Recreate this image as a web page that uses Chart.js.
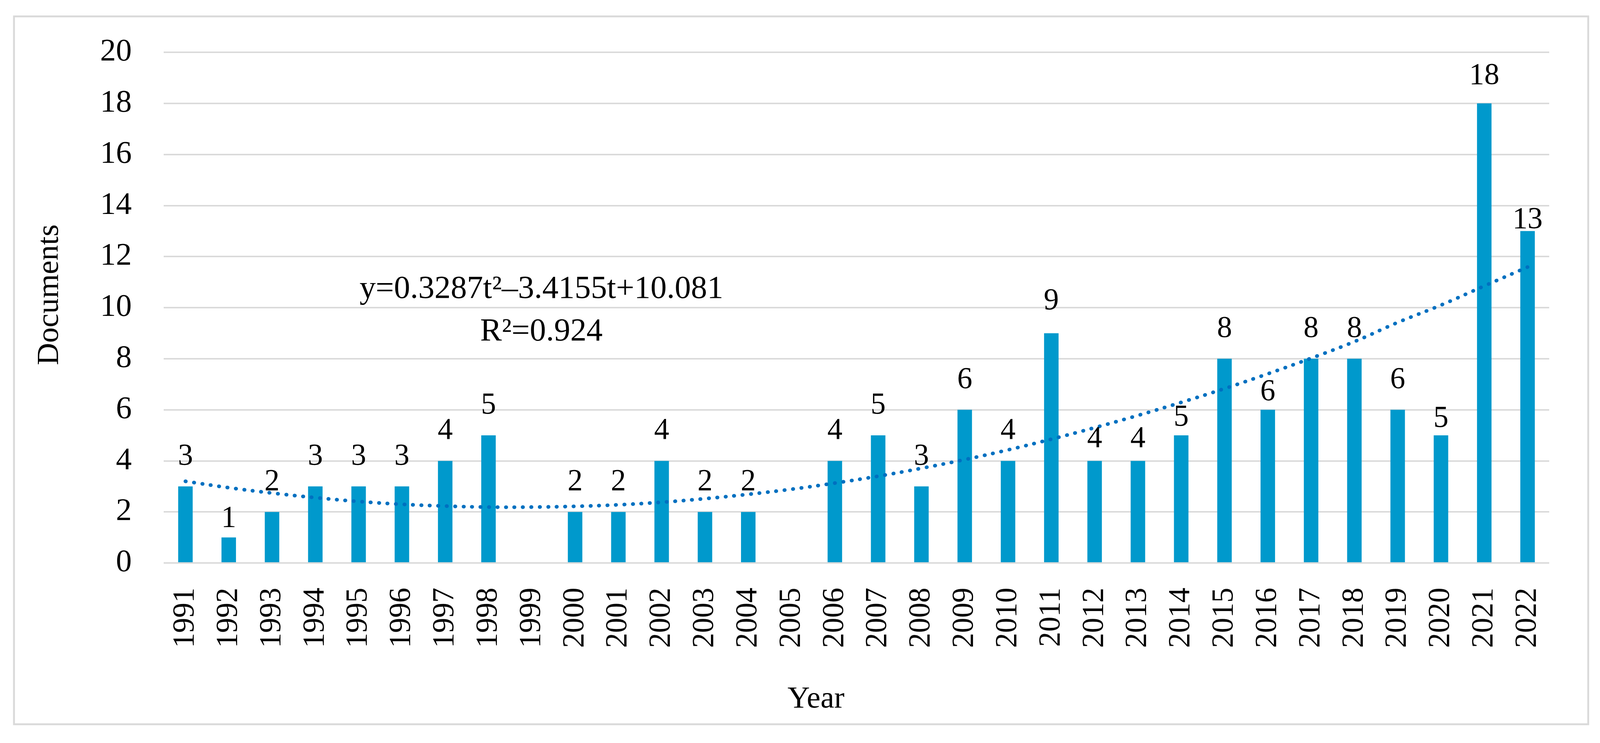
<!DOCTYPE html>
<html>
<head>
<meta charset="utf-8">
<title>Documents per year</title>
<script src="https://cdn.jsdelivr.net/npm/chart.js@4.4.1/dist/chart.umd.min.js"></script>
<style>
  html, body { margin: 0; padding: 0; background: #fff; overflow: hidden; }
  canvas { display: block; }
</style>
</head>
<body>
<canvas id="docChart"></canvas>
<script>
// Years along the x axis
var years = ['1991', '1992', '1993', '1994', '1995', '1996', '1997', '1998', '1999', '2000',
             '2001', '2002', '2003', '2004', '2005', '2006', '2007', '2008', '2009', '2010',
             '2011', '2012', '2013', '2014', '2015', '2016', '2017', '2018', '2019', '2020',
             '2021', '2022'];

// Documents published each year
var documents = [3, 1, 2, 3, 3, 3, 4, 5, 0, 2,
                 2, 4, 2, 2, 0, 4, 5, 3, 6, 4,
                 9, 4, 4, 5, 8, 6, 8, 8, 6, 5,
                 18, 13];

// Dotted polynomial trendline at each year
var trend = [3.20, 2.95, 2.74, 2.56, 2.41, 2.30, 2.23, 2.19, 2.19, 2.22,
             2.28, 2.38, 2.52, 2.69, 2.89, 3.13, 3.40, 3.71, 4.05, 4.43,
             4.85, 5.30, 5.78, 6.29, 6.83, 7.41, 8.02, 8.67, 9.42, 10.10,
             10.85, 11.59];

// Y axis tick values
var yTicks = [0, 2, 4, 6, 8, 10, 12, 14, 16, 18, 20];

var equationText = 'y=0.3287t\u00b2\u20133.4155t+10.081';
var rSquaredText = 'R\u00b2=0.924';

// Some value labels were dragged by hand in the original (px, down is positive)
var labelShift = { '1992': 28, '2011': -5, '2012': 21, '2013': 21, '2014': 31,
                   '2016': 31, '2020': 34, '2021': 6, '2022': 48 };

// Layout was measured on a 4347 x 1903 picture, scale it to the real window
var baseW = 4347, baseH = 1903;
var winW = window.innerWidth || baseW;
var winH = window.innerHeight || baseH;
var kx = winW / baseW, ky = winH / baseH, kf = Math.min(kx, ky);
function X(v) { return v * kx; }
function Y(v) { return v * ky; }
function F(v) { return v * kf; }

var canvas = document.getElementById('docChart');
canvas.style.width = winW + 'px';
canvas.style.height = winH + 'px';

var serif = "'Liberation Serif', 'Times New Roman', serif";
Chart.defaults.font.family = serif;
Chart.defaults.color = '#000';

// Draws the outer frame, the value labels, the equation and the axis titles
var extrasPlugin = {
    id: 'extras',
    beforeDraw: function (chart) {
        var ctx = chart.ctx;
        ctx.save();
        ctx.fillStyle = '#fff';
        ctx.fillRect(0, 0, chart.width, chart.height);
        ctx.strokeStyle = '#d9d9d9';
        ctx.lineWidth = F(5);
        ctx.strokeRect(X(38), Y(42), X(4277), Y(1813));
        ctx.restore();
    },
    afterDraw: function (chart) {
        var ctx = chart.ctx;
        var bars = chart.getDatasetMeta(0).data;
        ctx.save();
        ctx.fillStyle = '#000';
        ctx.textAlign = 'center';
        ctx.textBaseline = 'alphabetic';

        // value labels above the bars
        ctx.font = F(82) + 'px ' + serif;
        for (var i = 0; i < bars.length; i++) {
            if (!documents[i]) continue;
            var shift = labelShift[years[i]] || 0;
            ctx.fillText(String(documents[i]), bars[i].x, bars[i].y + Y(shift - 56));
        }

        // trendline equation
        ctx.font = F(88) + 'px ' + serif;
        ctx.fillText(equationText, X(1471), Y(763));
        ctx.fillText(rSquaredText, X(1471), Y(872));

        // axis titles
        ctx.font = F(84) + 'px ' + serif;
        ctx.fillText('Year', X(2217), Y(1812));
        ctx.translate(X(157), Y(755));
        ctx.rotate(-Math.PI / 2);
        ctx.fillText('Documents', 0, 0);
        ctx.restore();
    }
};

new Chart(canvas, {
    data: {
        labels: years,
        datasets: [{
            type: 'bar',
            label: 'Documents',
            data: documents,
            backgroundColor: '#0099cc',
            borderWidth: 0,
            barPercentage: 0.335,
            categoryPercentage: 1,
            order: 1
        }, {
            type: 'line',
            label: 'Trend',
            data: trend,
            borderColor: '#0070c0',
            borderWidth: F(10),
            borderDash: [F(1), F(22)],
            borderCapStyle: 'round',
            pointRadius: 0,
            tension: 0.4,
            fill: false,
            order: 0
        }]
    },
    options: {
        responsive: false,
        animation: false,
        layout: {
            padding: { left: 0, right: X(138), top: Y(134), bottom: 0 }
        },
        plugins: {
            legend: { display: false },
            tooltip: { enabled: false }
        },
        scales: {
            x: {
                offset: true,
                grid: { display: false },
                border: { display: false },
                ticks: {
                    autoSkip: false,
                    minRotation: 90,
                    maxRotation: 90,
                    padding: Y(55),
                    font: { size: F(82) }
                },
                afterFit: function (scale) { scale.height = Y(461); }
            },
            y: {
                min: yTicks[0],
                max: yTicks[yTicks.length - 1],
                ticks: {
                    stepSize: yTicks[1] - yTicks[0],
                    padding: X(87),
                    font: { size: F(86) }
                },
                grid: { color: '#d9d9d9', lineWidth: F(4), drawTicks: false },
                border: { display: false },
                afterFit: function (scale) { scale.width = X(445); }
            }
        }
    },
    plugins: [extrasPlugin]
});
</script>
</body>
</html>
